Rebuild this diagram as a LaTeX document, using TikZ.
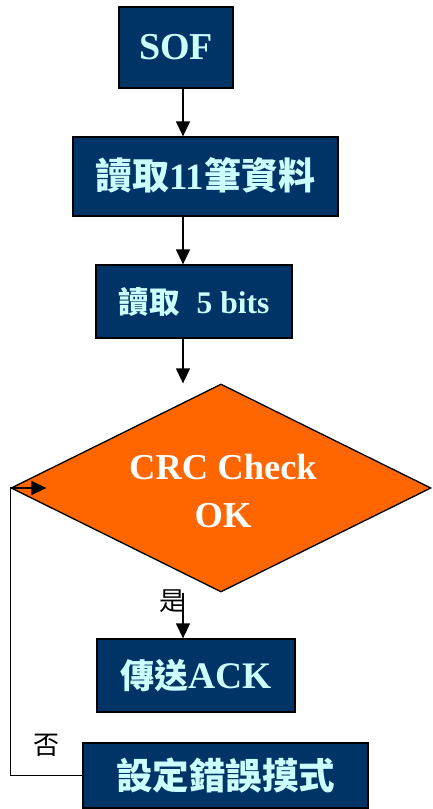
\documentclass[tikz,border=0pt]{standalone}
\usepackage{fontspec}
\setmainfont{Liberation Serif}
\newfontfamily\cjk{Noto Sans CJK TC}
\usetikzlibrary{shapes.geometric,arrows.meta}
\definecolor{navy}{HTML}{003366}
\definecolor{lcyan}{HTML}{CCFFFF}
\definecolor{orng}{HTML}{FF6600}
\tikzset{
  box/.style={draw=black,line width=1.3pt,fill=navy,text=lcyan,inner sep=0pt,font=\bfseries},
  arr/.style={line width=1.3pt,-{Triangle[length=15pt,width=14pt]}},
  ln/.style={line width=1.3pt},
  lbl/.style={inner sep=0pt,font=\cjk\fontsize{26}{28}\selectfont}
}
\begin{document}
\begin{tikzpicture}[x=1pt,y=-1pt]
\useasboundingbox (0,0) rectangle (432,809);
\coordinate (col) at (183,0);
\node[box,minimum width=114pt,minimum height=81pt,line width=2pt] (sof) at (176,47.5)
  {\fontsize{38}{40}\selectfont\raisebox{2pt}{SOF}};
\node[box,minimum width=265pt,minimum height=79pt] (b2) at (205.5,176.5)
  {\raisebox{6pt}{{\cjk\fontsize{37}{40}\selectfont 讀取}\fontsize{37}{40}\selectfont 11{\cjk\fontsize{37}{40}\selectfont 筆資料}}};
\node[box,minimum width=196pt,minimum height=73pt] (b3) at (194,301.5)
  {{\cjk\fontsize{30.5}{33}\selectfont 讀取}\hspace{17pt}\fontsize{31.5}{34}\selectfont 5 bits};
\node[diamond,draw=black,line width=1.3pt,fill=orng,minimum width=420pt,minimum height=208pt,inner sep=0pt] (dia) at (221,488) {};
\node[text=white,font=\bfseries\fontsize{36.5}{48.5}\selectfont,align=center,inner sep=0pt] (dtext) at (223,491) {CRC Check\\OK};
\node[box,minimum width=198pt,minimum height=73pt] (ack) at (196,675.5)
  {{\cjk\fontsize{34}{37}\selectfont 傳送}\fontsize{37.5}{40}\selectfont ACK};
\node[box,minimum width=285pt,minimum height=65pt] (err) at (225.5,775.5)
  {\raisebox{-1.5pt}{\cjk\fontsize{36.5}{39}\selectfont 設定錯誤摸式}};
\node[lbl] (yes) at (172,601) {是};
\node[lbl] (no) at (47,745) {否};
\draw[arr] (sof.south -| col) -- (b2.north -| col);
\draw[arr] (b2.south -| col) -- (b3.north -| col);
\draw[arr] (b3.south -| col) -- (dia.north -| col);
\draw[arr] (dia.south -| col) -- (ack.north -| col);
\draw[ln] (err.west) -| (dia.west);
\draw[arr] (dia.west) -- ++(36,0);
\end{tikzpicture}
\end{document}
